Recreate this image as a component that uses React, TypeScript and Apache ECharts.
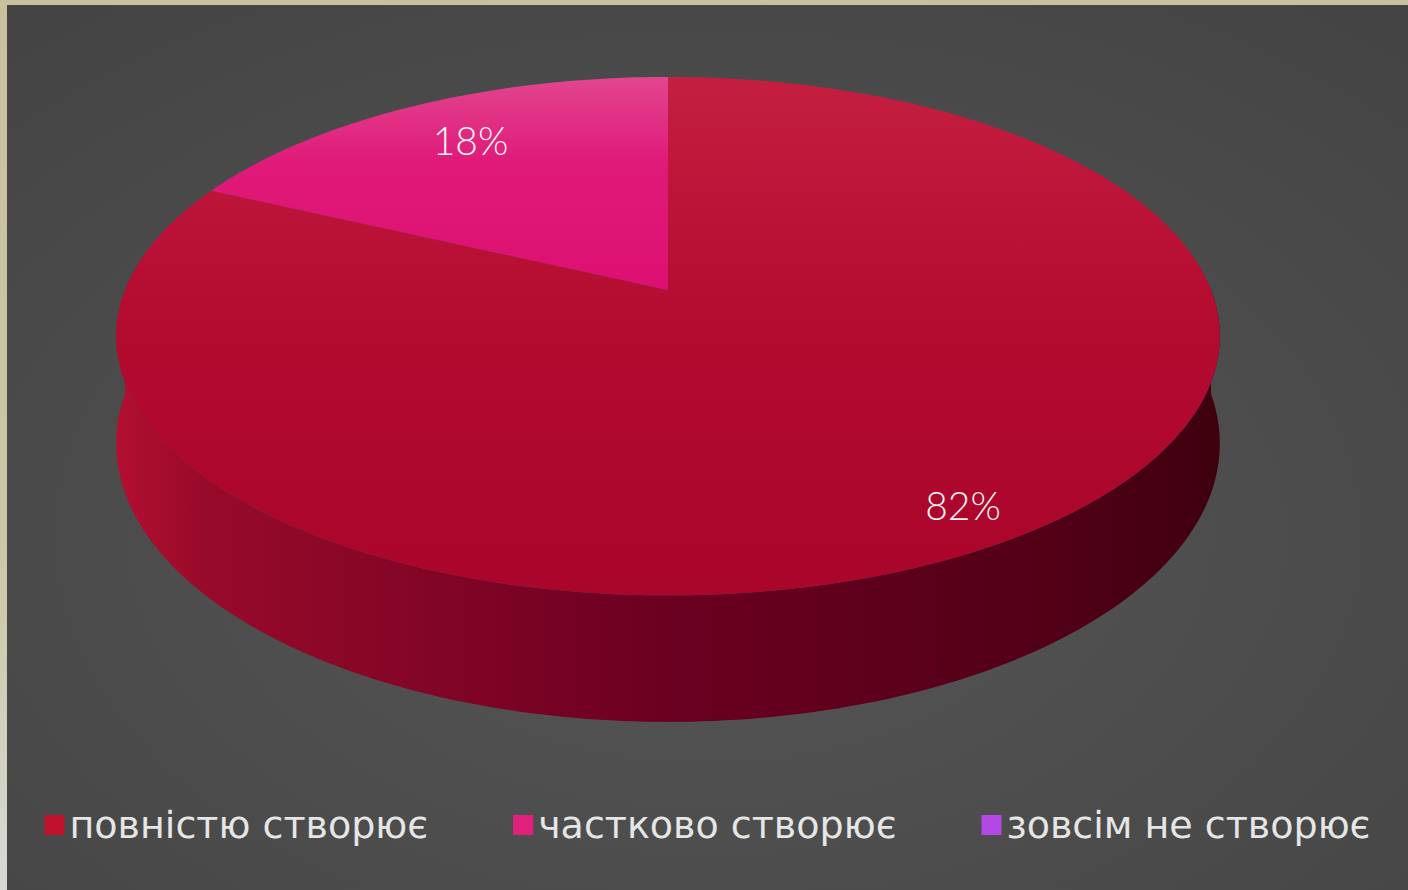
import React, { useEffect, useRef } from "react";
import * as echarts from "echarts";

const categories = ["повністю створює", "частково створює", "зовсім не створює"];
const values = [82, 18, 0];
const colors = ["#c0122f", "#e0207c", "#b448e6"];

export default function App() {
  const ref = useRef<HTMLDivElement>(null);

  useEffect(() => {
    document.body.style.margin = "0";
    const chart = echarts.init(ref.current as HTMLDivElement, null, { renderer: "svg" });
    const total = values.reduce((a, b) => a + b, 0);
    const starts: number[] = [];
    let acc = 0;
    values.forEach((v) => {
      starts.push(acc);
      acc += v;
    });

    const CX = 661, CY = 285, A = 543, B = 251, K = 0.178, H = 104;
    const proj = (t: number, r: number, h: number) => {
      const u = r * Math.sin(t);
      const v = -r * Math.cos(t);
      const d = 1 - K * v;
      return [CX + (A * u) / d, CY + (B * v + h) / d];
    };

    const topFills = [
      new echarts.graphic.LinearGradient(0, 0, 0, 1, [
        { offset: 0, color: "#c41e40" },
        { offset: 0.5, color: "#b30a30" },
        { offset: 1, color: "#aa052b" },
      ]),
      new echarts.graphic.LinearGradient(0, 0, 0, 1, [
        { offset: 0, color: "#e2468f" },
        { offset: 0.4, color: "#e01a79" },
        { offset: 1, color: "#dc1072" },
      ]),
      new echarts.graphic.LinearGradient(0, 0, 0, 1, [
        { offset: 0, color: "#c064ee" },
        { offset: 1, color: "#a83ad8" },
      ]),
    ];
    const wallFill = new echarts.graphic.LinearGradient(0, 0, 1, 0, [
      { offset: 0, color: "#b30f30" },
      { offset: 0.08, color: "#980a2a" },
      { offset: 0.5, color: "#6b0021" },
      { offset: 0.85, color: "#520017" },
      { offset: 1, color: "#3e000e" },
    ]);

    const makeRender = (i: number) => (params: any, api: any) => {
      const v = values[i];
      if (!v) return { type: "group", children: [] };
      const a0 = (starts[i] / total) * Math.PI * 2;
      const a1 = ((starts[i] + v) / total) * Math.PI * 2;
      const children: any[] = [];
      const w0 = Math.max(a0, Math.PI / 2);
      const w1 = Math.min(a1, (Math.PI * 3) / 2);
      if (w1 > w0) {
        const n = Math.max(4, Math.ceil((w1 - w0) / (Math.PI / 180)));
        const topPts: number[][] = [];
        const botPts: number[][] = [];
        for (let j = 0; j <= n; j++) {
          const t = w0 + ((w1 - w0) * j) / n;
          topPts.push(proj(t, 1, 0));
          botPts.push(proj(t, 1, H));
        }
        children.push({
          type: "polygon",
          shape: { points: topPts.concat(botPts.reverse()) },
          style: { fill: wallFill },
        });
      }
      const n = Math.max(4, Math.ceil((a1 - a0) / (Math.PI / 180)));
      const pts: number[][] = [proj(0, 0, 0)];
      for (let j = 0; j <= n; j++) {
        const t = a0 + ((a1 - a0) * j) / n;
        pts.push(proj(t, 1, 0));
      }
      children.push({
        type: "polygon",
        shape: { points: pts },
        style: { fill: topFills[i] },
      });
      const mid = (a0 + a1) / 2;
      const lr = v / total > 0.5 ? 0.88 : 0.79;
      const lp = proj(mid, lr, 0);
      children.push({
        type: "text",
        style: {
          text: Math.round((v / total) * 100) + "%",
          x: lp[0] + (v / total > 0.5 ? 0 : 8),
          y: lp[1],
          align: "center",
          verticalAlign: "middle",
          fill: "#f3f3f3",
          fontSize: 39,
          fontFamily: "Lato",
          fontWeight: 300,
        },
      });
      return { type: "group", children };
    };

    chart.setOption({
      animation: false,
      backgroundColor: new echarts.graphic.RadialGradient(0.5, 0.6, 0.8, [
        { offset: 0, color: "#565656" },
        { offset: 1, color: "#434343" },
      ]),
      legend: {
        data: categories,
        left: "center",
        top: 796,
        icon: "rect",
        itemWidth: 20,
        itemHeight: 20,
        itemGap: 85,
        selectedMode: false,
        textStyle: {
          color: "#e6e6e6",
          fontSize: 38,
          fontFamily: "DejaVu Sans",
        },
      },
      series: categories.map((name, i) => ({
        type: "custom",
        name,
        coordinateSystem: "none",
        itemStyle: { color: colors[i] },
        renderItem: makeRender(i),
        data: [{ value: values[i], name }],
      })),
    });

    return () => chart.dispose();
  }, []);

  return (
    <div
      style={{
        position: "relative",
        width: 1408,
        height: 890,
        background: "linear-gradient(to bottom, #c9c19b 0%, #cdc6a4 60%, #d6d9d4 100%)",
        overflow: "hidden",
      }}
    >
      <div
        ref={ref}
        style={{ position: "absolute", left: 7, top: 5, width: 1401, height: 885 }}
      />
    </div>
  );
}
